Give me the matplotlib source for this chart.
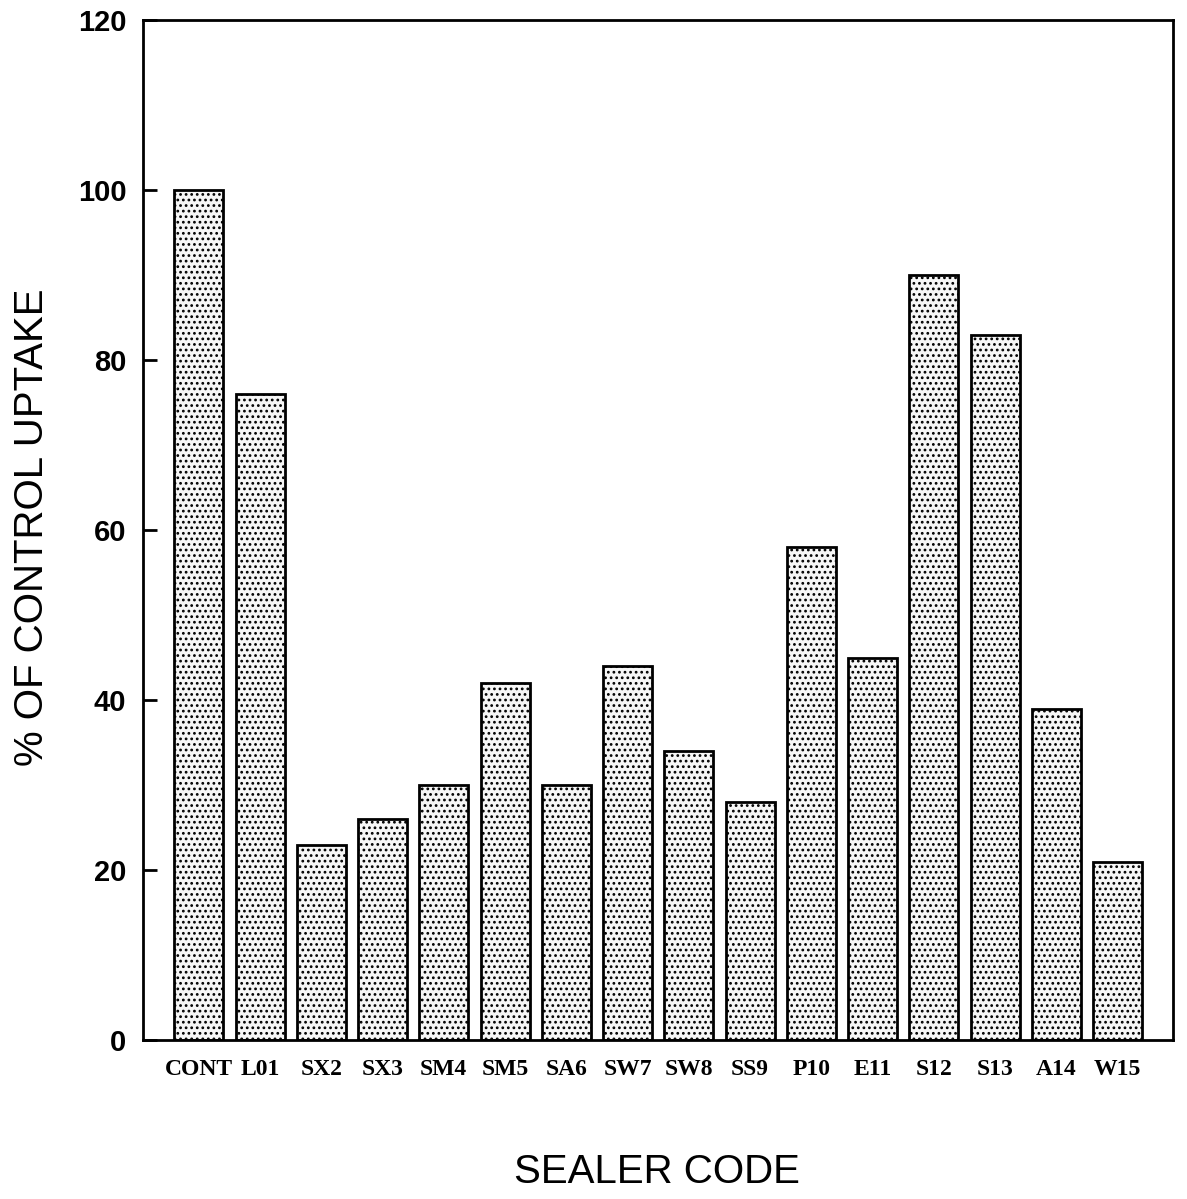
# Bar chart: % of control uptake by sealer code
import matplotlib.pyplot as plt

codes = ['CONT', 'L01', 'SX2', 'SX3', 'SM4', 'SM5', 'SA6', 'SW7',
         'SW8', 'SS9', 'P10', 'E11', 'S12', 'S13', 'A14', 'W15']
uptake = [100, 76, 23, 26, 30, 42, 30, 44, 34, 28, 58, 45, 90, 83, 39, 21]
y_ticks = [0, 20, 40, 60, 80, 100, 120]

plt.rcParams['hatch.linewidth'] = 1.2

fig = plt.figure(figsize=(11.87, 11.99), dpi=100)
ax = fig.add_axes([0.1205, 0.1326, 0.8675, 0.8507])

x = range(len(codes))
ax.bar(x, uptake, width=0.8, color='#f6f6f6', edgecolor='black',
       linewidth=2, hatch='...')

ax.set_xlim(-0.91, len(codes) - 0.1)
ax.set_ylim(0, 120)
ax.set_yticks(y_ticks)
ax.set_yticklabels([str(v) for v in y_ticks], fontfamily='Liberation Sans',
                   fontweight='bold', fontsize=21)
ax.set_xticks(list(x))
ax.set_xticklabels(codes, fontfamily='Liberation Serif', fontweight='bold',
                   fontsize=17)
ax.tick_params(axis='y', direction='in', length=10, width=2, pad=12)
ax.tick_params(axis='x', length=0, pad=14)

for s in ax.spines.values():
    s.set_linewidth(2)

# axis titles placed by hand, as in the scan
fig.text(32 / 1187, 1 - 527 / 1199, '% OF CONTROL UPTAKE', rotation=90,
         ha='center', va='center', fontfamily='Liberation Sans', fontsize=29)
fig.text(657 / 1187, 1 - 1172 / 1199, 'SEALER CODE', ha='center',
         va='center', fontfamily='Liberation Sans', fontsize=29)

plt.savefig('out.png', dpi=100)
